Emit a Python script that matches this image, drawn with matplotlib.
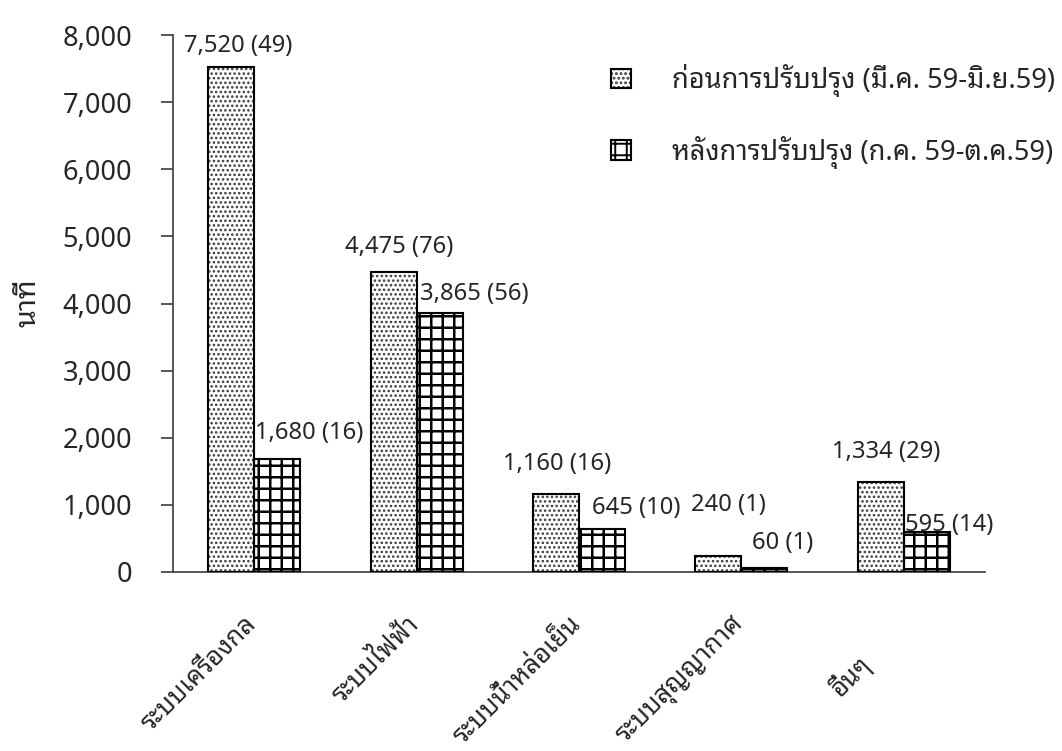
import matplotlib
matplotlib.use("Agg")
import matplotlib.pyplot as plt
import numpy as np
from matplotlib.patches import Patch
from matplotlib.legend_handler import HandlerTuple
from matplotlib.ticker import FuncFormatter

plt.rcParams['font.family'] = ['Noto Sans Thai Looped', 'DejaVu Sans']

# Downtime (minutes) and number of incidents by system
categories = ["ระบบเครื่องกล", "ระบบไฟฟ้า", "ระบบน้ำหล่อเย็น", "ระบบสุญญากาศ", "อื่นๆ"]
before_minutes = [7520, 4475, 1160, 240, 1334]
before_counts = [49, 76, 16, 1, 29]
after_minutes = [1680, 3865, 645, 60, 595]
after_counts = [16, 56, 10, 1, 14]
series_labels = ["ก่อนการปรับปรุง (มี.ค. 59-มิ.ย.59)", "หลังการปรับปรุง (ก.ค. 59-ต.ค.59)"]
y_label = "นาที"

# label offsets (pixels) relative to the top centre of each bar
before_label_offsets = [(7, 21), (6, 25), (1, 30), (10, 51), (5, 30)]
after_label_offsets = [(32, 26), (35, 19), (34, 21), (18, 25), (22, 7)]
# category label anchor offsets (pixels) from each group centre on the axis
cat_offsets = [(-1, -49), (-1, -49), (-1, -49), (-1, -49), (-37, -88)]

DPI = 138
fig = plt.figure(figsize=(1062 / DPI, 751 / DPI), dpi=DPI)
ax = fig.add_axes([173 / 1062, 1 - 572 / 751, (985 - 173) / 1062, (572 - 35) / 751])

x = np.arange(len(categories))
w = 0.283
txt = '#262626'
DOT_LW, GRID_LW = 0.85, 1.3


def hatched(p, color, lw):
    p.set_edgecolor(color)
    if hasattr(p, 'set_hatch_linewidth'):
        p.set_hatch_linewidth(lw)


with plt.rc_context({'hatch.linewidth': DOT_LW}):
    dots = ax.bar(x - w / 2, before_minutes, w, color='white', hatch='.....', linewidth=0, zorder=2)
for p in dots:
    hatched(p, '#383838', DOT_LW)
ax.bar(x - w / 2, before_minutes, w, fill=False, edgecolor='black', linewidth=1.1, zorder=3)

with plt.rc_context({'hatch.linewidth': GRID_LW}):
    grid = ax.bar(x + w / 2, after_minutes, w, color='white', hatch='++', linewidth=0, zorder=2)
for p in grid:
    hatched(p, 'black', GRID_LW)
ax.bar(x + w / 2, after_minutes, w, fill=False, edgecolor='black', linewidth=1.1, zorder=3)

for i in range(len(categories)):
    ax.annotate(f"{before_minutes[i]:,} ({before_counts[i]})", xy=(x[i] - w / 2, before_minutes[i]),
                xytext=before_label_offsets[i], textcoords='offset pixels',
                ha='center', va='center', fontsize=12.4, color=txt)
    ax.annotate(f"{after_minutes[i]:,} ({after_counts[i]})", xy=(x[i] + w / 2, after_minutes[i]),
                xytext=after_label_offsets[i], textcoords='offset pixels',
                ha='center', va='center', fontsize=12.4, color=txt)
    ax.annotate(categories[i], xy=(x[i], 0), xycoords=ax.get_xaxis_transform(),
                xytext=cat_offsets[i], textcoords='offset pixels', rotation=45,
                rotation_mode='anchor', ha='right', va='center', fontsize=13.4, color=txt,
                annotation_clip=False)

ax.set_xlim(-0.5, len(categories) - 0.5)
ax.set_ylim(0, 8000)
ax.set_yticks(np.arange(0, 8001, 1000))
ax.yaxis.set_major_formatter(FuncFormatter(lambda v, _: f"{int(v):,}"))
ax.tick_params(axis='y', length=6.3, width=0.9, color='#404040', labelsize=14.2,
               labelcolor=txt, pad=15)
ax.set_xticks([])
for s in ('top', 'right'):
    ax.spines[s].set_visible(False)
for s in ('left', 'bottom'):
    ax.spines[s].set_color('#404040')
    ax.spines[s].set_linewidth(0.9)

fig.text(28 / 1062, 1 - 303 / 751, y_label, rotation=90, ha='center', va='center',
         fontsize=15, color=txt)

# legend
h1 = (Patch(facecolor='white', edgecolor='#383838', hatch='.....', linewidth=0),
      Patch(fill=False, edgecolor='black', linewidth=1.1))
h2 = (Patch(facecolor='white', edgecolor='black', hatch='++', linewidth=0),
      Patch(fill=False, edgecolor='black', linewidth=1.1))
if hasattr(h1[0], 'set_hatch_linewidth'):
    h1[0].set_hatch_linewidth(DOT_LW)
    h2[0].set_hatch_linewidth(GRID_LW)
leg = ax.legend([h1, h2], series_labels, handler_map={tuple: HandlerTuple(ndivide=1, pad=0)},
                loc='upper left', bbox_to_anchor=(611 / 1062, 1 - 64 / 751),
                bbox_transform=fig.transFigure, frameon=False, fontsize=14.2,
                handlelength=0.75, handleheight=0.75, handletextpad=1.5,
                labelspacing=1.42, borderpad=0, borderaxespad=0)
for t in leg.get_texts():
    t.set_color(txt)

fig.savefig("out.png", dpi=DPI)
